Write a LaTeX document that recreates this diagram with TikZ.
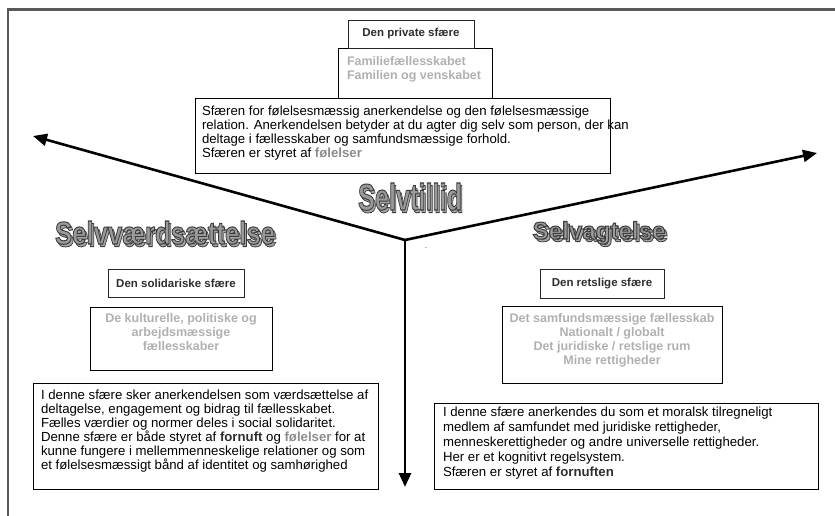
\documentclass[tikz,border=0pt]{standalone}
\usepackage{fontspec}
\setmainfont{Liberation Sans}
\usepackage{graphicx}
\usetikzlibrary{arrows.meta}

\definecolor{framegray}{HTML}{595959}
\definecolor{paletext}{HTML}{B0B0B0}
\definecolor{midgray}{HTML}{8C8C8C}
\definecolor{darktext}{HTML}{2E2E2E}
\definecolor{waFill}{HTML}{9A9A9A}
\definecolor{waShadow}{HTML}{A6A6A6}

% outlined word-art text: fill + stroke via PDF text render mode 2
\newcommand\waput[4]{\rlap{\kern#1\raisebox{#2}{\color{#3}%
  \special{pdf:literal direct 0.24 G 2 Tr #4 w}\copy0\special{pdf:literal direct 0 Tr}}}}
\newcommand\wordart[4]{% width, height, font size, text
  \setbox0\hbox{\fontsize{#3}{#3}\selectfont\bfseries #4}%
  \resizebox{#1}{#2}{%
    \waput{2.4pt}{-2.6pt}{waShadow}{0.8}%
    \waput{0pt}{0pt}{waFill}{1.0}%
    \phantom{\copy0}}}

\tikzset{
  every node/.style={inner sep=0pt, outer sep=0pt},
  framebox/.style={draw=black, line width=0.8pt, anchor=north west},
  hdrbox/.style={draw=black!85, line width=0.8pt, text=darktext,
    font=\bfseries\fontsize{11.5}{14}\selectfont},
  bodytxt/.style={anchor=north west, align=left, text=black,
    font=\fontsize{13.2}{14.1}\selectfont},
  bodytxtb/.style={anchor=north west, align=left, text=black,
    font=\fontsize{13.2}{15}\selectfont},
  paletxt/.style={text=paletext, font=\bfseries\fontsize{12.5}{14}\selectfont},
  arrowline/.style={line width=2.6pt, line cap=round,
    -{Triangle[length=14pt,width=12pt]}},
  edgeline/.style={draw=framegray, line width=2.7pt},
  wa/.style={anchor=base}
}

\begin{document}
\begin{tikzpicture}[x=1pt,y=-1pt]
\useasboundingbox (0,0) rectangle (835,516);

% page frame
\draw[edgeline] (8,516) -- (8,9.5) -- (835,9.5);

% top: private sphere
\node[framebox, minimum width=154, minimum height=50] (familybox) at (338,48) {};
\node[paletxt, anchor=north west, align=left] (familytxt) at (347,56.6)
  {Familiefællesskabet\\Familien og venskabet};
\node[hdrbox, minimum width=126, minimum height=28] (private) at (411,34) {Den private sfære};
\node[framebox, minimum width=415, minimum height=75] (topbox) at (195,98) {};
\node[bodytxt] (toptxt) at (202,105.7)
  {Sfæren for følelsesmæssig anerkendelse og den følelsesmæssige\\
   relation. Anerkendelsen betyder at du agter dig selv som person, der kan\\
   deltage i fællesskaber og samfundsmæssige forhold.\\
   Sfæren er styret af {\bfseries\color{midgray}følelser}};

% arrows
\coordinate (j) at (405,240);
\coordinate (ltip) at (33,136);
\coordinate (rtip) at (817,153);
\coordinate (dtip) at (405,487);
\draw[arrowline] (j) -- (ltip);
\draw[arrowline] (j) -- (rtip);
\draw[arrowline] (j) -- (dtip);
\node[font=\fontsize{7}{7}\selectfont] (dot) at (426,248) {.};

% left: solidarity sphere
\node[hdrbox, minimum width=136, minimum height=28] (solid) at (176,283) {Den solidariske sfære};
\node[framebox, minimum width=182, minimum height=63] (kulturbox) at (90,307) {};
\node[paletxt, anchor=north, align=center] (kulturtxt) at (181,313.6)
  {De kulturelle, politiske og\\arbejdsmæssige\\fællesskaber};
\node[framebox, minimum width=345, minimum height=106] (leftbox) at (33,383) {};
\node[bodytxt] (lefttxt) at (41,389.7)
  {I denne sfære sker anerkendelsen som værdsættelse af\\
   deltagelse, engagement og bidrag til fællesskabet.\\
   Fælles værdier og normer deles i social solidaritet.\\
   Denne sfære er både styret af {\bfseries\color{darktext}fornuft} og {\bfseries\color{midgray}følelser} for at\\
   kunne fungere i mellemmenneskelige relationer og som\\
   et følelsesmæssigt bånd af identitet og samhørighed};

% right: legal sphere
\node[hdrbox, minimum width=124, minimum height=29] (legal) at (602,283.5) {Den retslige sfære};
\node[framebox, minimum width=220, minimum height=77] (samfundbox) at (502,306) {};
\node[paletxt, anchor=north, align=center] (samfundtxt) at (612,313.6)
  {Det samfundsmæssige fællesskab\\Nationalt / globalt\\Det juridiske / retslige rum\\Mine rettigheder};
\node[framebox, minimum width=384, minimum height=86] (rightbox) at (434,403) {};
\node[bodytxtb] (righttxt) at (443,407)
  {I denne sfære anerkendes du som et moralsk tilregneligt\\
   medlem af samfundet med juridiske rettigheder,\\
   menneskerettigheder og andre universelle rettigheder.\\
   Her er et kognitivt regelsystem.\\
   Sfæren er styret af {\bfseries\color{darktext}fornuften}};

% word art titles (drawn last)
\node[wa] (selvtillid) at (410,210) {\wordart{104pt}{27pt}{37pt}{Selvtillid}};
\node[wa] (selvvaerd) at (165,244) {\wordart{220pt}{23pt}{31.5pt}{Selvværdsættelse}};
\node[wa] (selvagt) at (599,239) {\wordart{133pt}{17.5pt}{24pt}{Selvagtelse}};
\end{tikzpicture}
\end{document}
